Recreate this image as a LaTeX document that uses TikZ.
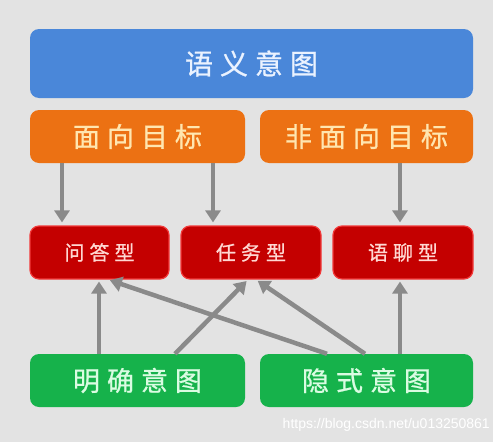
\documentclass[tikz,border=0pt]{standalone}
\usepackage{fontspec}
\newfontfamily\cjk[FakeBold=0.8]{Noto Sans CJK SC}
\setsansfont{Liberation Sans}
\usetikzlibrary{arrows.meta}
\definecolor{bgc}{HTML}{E3E3E3}
\definecolor{bluec}{HTML}{4A87D9}
\definecolor{orangec}{HTML}{EC7113}
\definecolor{redc}{HTML}{C40000}
\definecolor{redb}{HTML}{F23A3A}
\definecolor{greenc}{HTML}{16B24B}
\definecolor{arrc}{HTML}{8A8A8A}
\definecolor{ttxt}{HTML}{EAF2FF}
\definecolor{otxt}{HTML}{FFE6B0}
\definecolor{rtxt}{HTML}{FFD8D2}
\definecolor{gtxt}{HTML}{DAFCE2}
\newcommand\gpa{\hspace{7pt}}
\newcommand\gpb{\hspace{5pt}}
\begin{document}
\begin{tikzpicture}[x=1pt,y=-1pt,
  box/.style={rounded corners=9pt,inner sep=0pt,align=center},
  bluebox/.style={box,fill=bluec,text=ttxt,font=\cjk\fontsize{28}{30}\selectfont},
  orangebox/.style={box,fill=orangec,text=otxt,font=\cjk\fontsize{27}{28}\selectfont},
  redbox/.style={box,fill=redc,draw=redb,line width=1.2pt,text=rtxt,font=\cjk\fontsize{20}{22}\selectfont},
  greenbox/.style={box,fill=greenc,text=gtxt,font=\cjk\fontsize{27}{28}\selectfont},
  arr/.style={draw=arrc,line width=4.5pt,-{Triangle[width=15pt,length=12pt]}}
]
\fill[bgc] (0,0) rectangle (493,442);
\useasboundingbox (0,0) rectangle (493,442);

\node[bluebox,minimum width=443pt,minimum height=69pt] (title) at (251.5,63.5) {语\gpa 义\gpa 意\gpa 图};
\node[orangebox,minimum width=215pt,minimum height=53pt] (o1) at (137.5,136.5) {面\gpa 向\gpa 目\gpa 标};
\node[orangebox,minimum width=213pt,minimum height=53pt] (o2) at (366.5,136.5) {非\gpa 面\gpa 向\gpa 目\gpa 标};

\node[redbox,minimum width=139pt,minimum height=53pt] (r1) at (99.5,252.5) {问\gpb 答\gpb 型};
\node[redbox,minimum width=140pt,minimum height=53pt] (r2) at (251,252.5) {任\gpb 务\gpb 型};
\node[redbox,minimum width=140pt,minimum height=53pt] (r3) at (403,252.5) {语\gpb 聊\gpb 型};

\node[greenbox,minimum width=215pt,minimum height=53pt] (g1) at (137.5,380.5) {明\gpa 确\gpa 意\gpa 图};
\node[greenbox,minimum width=213pt,minimum height=53pt] (g2) at (366.5,380.5) {隐\gpa 式\gpa 意\gpa 图};

\draw[arr,shorten >=3pt] ([xshift=-75.5pt]o1.south) -- ([xshift=-37.5pt]r1.north);
\draw[arr,shorten >=3pt] ([xshift=75.5pt]o1.south) -- ([xshift=-38pt]r2.north);
\draw[arr,shorten >=3pt] ([xshift=33.5pt]o2.south) -- ([xshift=-3pt]r3.north);

\draw[arr,shorten >=2pt] ([xshift=-38.5pt]g1.north) -- ([xshift=-0.5pt]r1.south);
\draw[arr,shorten >=2pt] ([xshift=37.5pt]g1.north) -- ([xshift=-3pt]r2.south);
\draw[arr,shorten >=2pt] ([xshift=-39.5pt]g2.north) -- ([xshift=8.5pt]r1.south);
\draw[arr,shorten >=2pt] ([xshift=-1.5pt]g2.north) -- ([xshift=5pt]r2.south);
\draw[arr,shorten >=2pt] ([xshift=33.5pt]g2.north) -- ([xshift=-3pt]r3.south);

\node[anchor=east,inner sep=0pt,text=white,font=\sffamily\fontsize{14}{16}\selectfont] (wm) at (490,425) {https://blog.csdn.net/u013250861};
\end{tikzpicture}
\end{document}
